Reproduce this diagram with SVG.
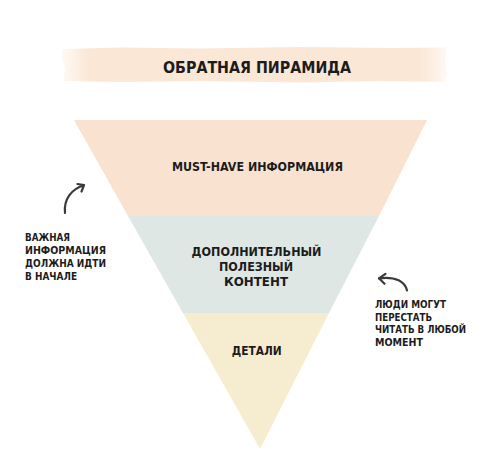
<svg xmlns="http://www.w3.org/2000/svg" width="500" height="454" viewBox="0 0 500 454">
  <style>
    text { font-family: "DejaVu Sans", "Liberation Sans", sans-serif; font-weight: bold; fill: #1c1c1c; }
    .title { font-size: 16px; }
    .lbl { font-size: 12px; }
    .note { font-size: 10px; }
    .arrow { fill: none; stroke: #3a3a3a; stroke-width: 2.2; stroke-linecap: round; stroke-linejoin: round; }
  </style>
  <defs>
    <linearGradient id="bandGrad" x1="0" y1="0" x2="1" y2="0">
      <stop offset="0" stop-color="#fbe7d6" stop-opacity="0.25"/>
      <stop offset="0.07" stop-color="#fbe7d6" stop-opacity="1"/>
      <stop offset="0.93" stop-color="#fbe7d6" stop-opacity="1"/>
      <stop offset="1" stop-color="#fbe7d6" stop-opacity="0.25"/>
    </linearGradient>
  </defs>
  <rect width="500" height="454" fill="#ffffff"/>

  <g id="title">
    <path d="M62,49 L120,47.5 L200,48.5 L300,47 L390,48 L447,47.5 L445,60 L447,72 L445,82 L380,81 L300,82.5 L200,81 L120,82 L63,81 L65,70 L62,58 Z" fill="url(#bandGrad)"/>
    <text class="title" x="257" y="72.5" text-anchor="middle" textLength="188" lengthAdjust="spacingAndGlyphs">ОБРАТНАЯ ПИРАМИДА</text>
  </g>

  <g id="pyramid">
    <polygon id="band-top" points="74,120 427,120 379,216 128,216" fill="#f9e2cf"/>
    <polygon id="band-mid" points="128,216 379,216 329,313 183,313" fill="#dfe7e4"/>
    <polygon id="band-bottom" points="183,313 329,313 260,449" fill="#f6edd0"/>
  </g>

  <g id="node-musthave">
    <text class="lbl" x="257.5" y="171" text-anchor="middle" textLength="171" lengthAdjust="spacingAndGlyphs">MUST-HAVE ИНФОРМАЦИЯ</text>
  </g>
  <g id="node-extra">
    <text class="lbl" x="256.5" y="255.5" text-anchor="middle" textLength="130" lengthAdjust="spacingAndGlyphs">ДОПОЛНИТЕЛЬНЫЙ</text>
    <text class="lbl" x="256" y="270.5" text-anchor="middle" textLength="74" lengthAdjust="spacingAndGlyphs">ПОЛЕЗНЫЙ</text>
    <text class="lbl" x="256" y="285.5" text-anchor="middle" textLength="64" lengthAdjust="spacingAndGlyphs">КОНТЕНТ</text>
  </g>
  <g id="node-details">
    <text class="lbl" x="256.7" y="355" text-anchor="middle" textLength="50" lengthAdjust="spacingAndGlyphs">ДЕТАЛИ</text>
  </g>

  <g id="note-left">
    <text class="note" x="25" y="241" textLength="45" lengthAdjust="spacingAndGlyphs">ВАЖНАЯ</text>
    <text class="note" x="25" y="254" textLength="81" lengthAdjust="spacingAndGlyphs">ИНФОРМАЦИЯ</text>
    <text class="note" x="25" y="267.3" textLength="81" lengthAdjust="spacingAndGlyphs">ДОЛЖНА ИДТИ</text>
    <text class="note" x="25" y="280.3" textLength="52" lengthAdjust="spacingAndGlyphs">В НАЧАЛЕ</text>
  </g>
  <g id="note-right">
    <text class="note" x="375" y="307.8" textLength="71" lengthAdjust="spacingAndGlyphs">ЛЮДИ МОГУТ</text>
    <text class="note" x="375" y="320.5" textLength="57" lengthAdjust="spacingAndGlyphs">ПЕРЕСТАТЬ</text>
    <text class="note" x="375" y="333.2" textLength="91" lengthAdjust="spacingAndGlyphs">ЧИТАТЬ В ЛЮБОЙ</text>
    <text class="note" x="375" y="346" textLength="48" lengthAdjust="spacingAndGlyphs">МОМЕНТ</text>
  </g>

  <g id="connectors">
    <path class="arrow" d="M65,213 C63.5,200 71,189 84,185.2"/>
    <path class="arrow" d="M77.5,184 L84,185.2 L81.5,191.5"/>
    <path class="arrow" d="M407,290.5 C405,282 396,276 379,278.3"/>
    <path class="arrow" d="M385.5,273.8 L379,278.3 L384.5,283.8"/>
  </g>
</svg>
